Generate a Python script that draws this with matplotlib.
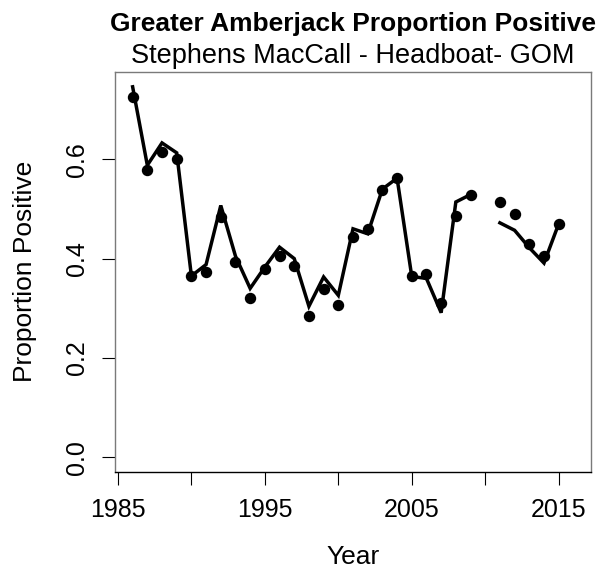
import numpy as np
import matplotlib
matplotlib.use("Agg")
import matplotlib.pyplot as plt

plt.rcParams["font.family"] = ["Liberation Sans", "DejaVu Sans"]

# datos (2010 sin dato)
anios = [1986, 1987, 1988, 1989, 1990, 1991, 1992, 1993, 1994, 1995,
         1996, 1997, 1998, 1999, 2000, 2001, 2002, 2003, 2004, 2005,
         2006, 2007, 2008, 2009, 2010, 2011, 2012, 2013, 2014, 2015]
observado = [0.725, 0.579, 0.615, 0.601, 0.365, 0.373, 0.483, 0.393, 0.320, 0.379,
             0.405, 0.385, 0.284, 0.338, 0.307, 0.443, 0.460, 0.539, 0.562, 0.365,
             0.369, 0.311, 0.485, 0.529, np.nan, 0.513, 0.490, 0.429, 0.405, 0.470]
predicho = [0.746, 0.588, 0.633, 0.613, 0.365, 0.388, 0.507, 0.405, 0.340, 0.383,
            0.423, 0.400, 0.304, 0.363, 0.326, 0.460, 0.450, 0.540, 0.562, 0.364,
            0.360, 0.291, 0.514, 0.529, np.nan, 0.472, 0.457, 0.422, 0.391, 0.470]

x_ticks = [1985, 1990, 1995, 2000, 2005, 2010, 2015]
x_labels = ["1985", "", "1995", "", "2005", "", "2015"]
y_ticks = [0.0, 0.2, 0.4, 0.6]
y_labels = ["0.0", "0.2", "0.4", "0.6"]

W, H = 602, 577
fig = plt.figure(figsize=(W / 100, H / 100), dpi=100)
ax = fig.add_axes([115 / W, 1 - 472 / H, (591 - 115) / W, (472 - 72) / H])

ax.plot(anios, predicho, "-", color="black", linewidth=2.5, solid_joinstyle="miter")
ax.plot(anios, observado, "o", color="black", markersize=7.2, linestyle="none")

ymax = np.nanmax(predicho)
ax.set_xlim(1984.8, 2017.2)
ax.set_ylim(-0.04 * ymax, ymax * 1.04)

ax.set_xticks(x_ticks)
ax.set_xticklabels(x_labels)
ax.set_yticks(y_ticks)
ax.set_yticklabels(y_labels, rotation=90, va="center")
ax.tick_params(axis="both", direction="out", length=9.5, width=0.8,
               labelsize=18, colors="black")
ax.tick_params(axis="x", pad=9)
ax.tick_params(axis="y", pad=9)
for s in ax.spines.values():
    s.set_color("#7a7a7a")
    s.set_linewidth(1.0)
ax.spines["bottom"].set_color("black")

xc = ax.get_position().x0 + ax.get_position().width / 2
fig.text(xc, 1 - 31 / H, "Greater Amberjack Proportion Positive", ha="center",
         va="baseline", fontsize=19, fontweight="bold")
fig.text(xc, 1 - 63 / H, "Stephens MacCall - Headboat- GOM", ha="center",
         va="baseline", fontsize=19.5)
fig.text(xc, 1 - 557 / H, "Year", ha="center", va="center", fontsize=19)
fig.text(25 / W, 1 - 271 / H, "Proportion Positive", ha="center", va="center",
         rotation=90, fontsize=19)

fig.savefig("out.png", dpi=100)
plt.close(fig)
